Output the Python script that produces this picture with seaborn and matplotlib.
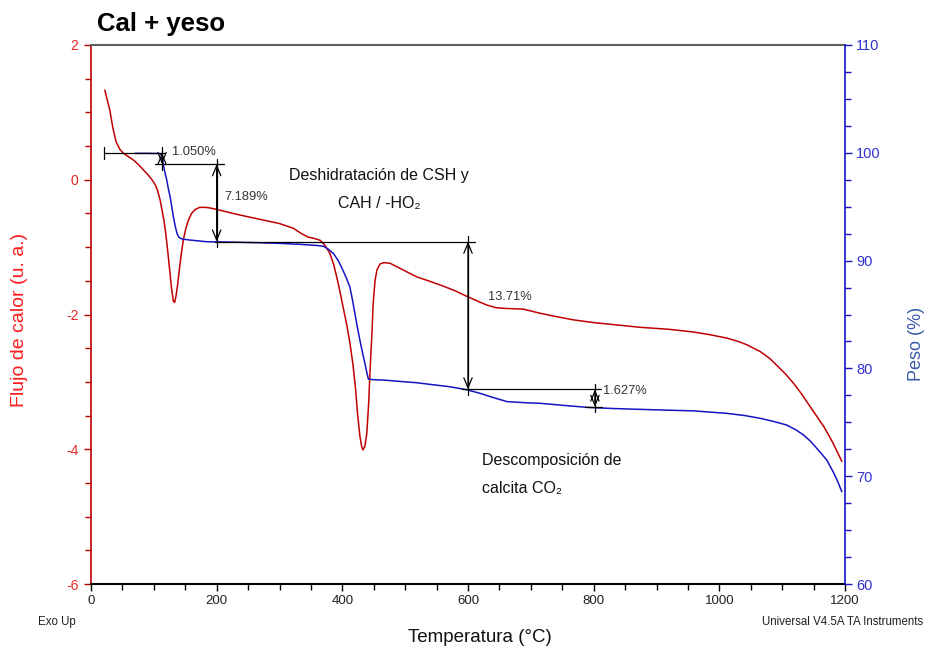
import matplotlib
matplotlib.use("Agg")
import matplotlib.pyplot as plt
import numpy as np
import pandas as pd
import seaborn as sns
from matplotlib.ticker import MultipleLocator

sns.set_theme(style="white")
plt.rcParams['font.family'] = ['Liberation Sans', 'DejaVu Sans']
plt.rcParams['axes.unicode_minus'] = False

# Heat flow curve (left axis)
temp_hf = [22, 26, 30, 35, 40, 46, 52, 60, 68, 76, 84, 92, 97, 102, 106, 110, 113,
           116, 119, 122, 125, 128, 131, 133, 135, 138, 141, 144, 147, 151, 155,
           160, 166, 173, 182, 190, 200, 226, 250, 280, 300, 322, 335, 345, 355,
           365, 372, 380, 386, 391, 396, 401, 407, 412, 417, 421, 424, 428, 431,
           433, 436, 439, 442, 444, 447, 449, 452, 455, 460, 466, 476, 495, 518,
           540, 561, 580, 598, 615, 630, 645, 660, 688, 714, 740, 768, 800, 821,
           874, 920, 959, 985, 1012, 1030, 1044, 1065, 1080, 1091, 1105, 1118,
           1131, 1144, 1155, 1166, 1174, 1181, 1195]
heat_flow = [1.33, 1.18, 1.03, 0.76, 0.56, 0.45, 0.39, 0.34, 0.29, 0.22, 0.14, 0.06,
             0.0, -0.07, -0.16, -0.30, -0.45, -0.60, -0.80, -1.05, -1.32, -1.60,
             -1.80, -1.82, -1.74, -1.55, -1.30, -1.08, -0.89, -0.72, -0.60, -0.50,
             -0.44, -0.41, -0.41, -0.42, -0.44, -0.50, -0.55, -0.61, -0.65, -0.72,
             -0.80, -0.85, -0.87, -0.90, -0.97, -1.09, -1.25, -1.44, -1.65, -1.88,
             -2.15, -2.42, -2.75, -3.10, -3.45, -3.81, -3.97, -4.01, -3.95, -3.76,
             -3.30, -2.85, -2.30, -1.85, -1.50, -1.34, -1.25, -1.23, -1.24, -1.33,
             -1.44, -1.51, -1.58, -1.65, -1.73, -1.80, -1.86, -1.90, -1.91, -1.92,
             -1.98, -2.03, -2.08, -2.12, -2.14, -2.19, -2.22, -2.26, -2.30, -2.35,
             -2.40, -2.45, -2.55, -2.65, -2.75, -2.88, -3.02, -3.18, -3.36, -3.51,
             -3.66, -3.79, -3.91, -4.18]

# Weight curve (right axis)
temp_w = [70, 90, 110, 113, 115, 118, 120.5, 123, 126, 128.5, 131, 134, 137, 140,
          145, 157, 184, 220, 266, 300, 333, 360, 370, 378, 386, 394, 401, 407,
          412, 416, 420, 424, 428, 432, 436, 439, 441.5, 450, 465, 490, 518, 545,
          571, 598, 619, 640, 662, 690, 715, 750, 789, 830, 874, 915, 959, 1012,
          1040, 1065, 1087, 1107, 1122, 1134, 1145, 1155, 1163, 1171, 1181, 1188,
          1195]
weight = [99.95, 99.95, 99.93, 99.7, 98.9, 98.1, 97.5, 96.7, 95.9, 95.0, 94.1, 93.2,
          92.5, 92.15, 92.0, 91.91, 91.75, 91.72, 91.66, 91.60, 91.51, 91.40, 91.33,
          91.05, 90.65, 89.95, 89.1, 88.3, 87.55, 86.4, 85.1, 83.8, 82.6, 81.5,
          80.45, 79.6, 79.0, 78.95, 78.92, 78.80, 78.67, 78.48, 78.30, 78.02, 77.69,
          77.30, 76.92, 76.82, 76.76, 76.58, 76.39, 76.28, 76.20, 76.13, 76.06,
          75.83, 75.63, 75.37, 75.07, 74.75, 74.30, 73.82, 73.25, 72.59, 72.05,
          71.50, 70.42, 69.55, 68.56]

# Step analysis of the weight loss
step_start = 100.0
step_losses = [1.050, 7.189, 13.71, 1.627]
step_labels = ["1.050%", "7.189%", "13.71%", "1.627%"]

RED = "#c00000"
BLUE = "#1414c4"

fig = plt.figure(figsize=(9.27, 6.52), dpi=100)
ax = fig.add_axes([91 / 927, 1 - 584 / 652, 754 / 927, 539 / 652])
ax2 = ax.twinx()

df_hf = pd.DataFrame({"Temperatura": temp_hf, "Flujo": heat_flow})
df_w = pd.DataFrame({"Temperatura": temp_w, "Peso": weight})
sns.lineplot(data=df_hf, x="Temperatura", y="Flujo", ax=ax, color=RED, lw=1.1)
sns.lineplot(data=df_w, x="Temperatura", y="Peso", ax=ax2, color=BLUE, lw=1.1)

ax.set_xlim(0, 1200)
ax.set_ylim(-6, 2)
ax2.set_ylim(60, 110)
ax.set_xticks(range(0, 1201, 200))
ax.xaxis.set_minor_locator(MultipleLocator(50))
ax.set_yticks([-6, -4, -2, 0, 2])
ax.yaxis.set_minor_locator(MultipleLocator(0.5))
ax2.set_yticks(range(60, 111, 10))
ax2.yaxis.set_minor_locator(MultipleLocator(2.5))

# spines
for sp in ax.spines.values():
    sp.set_visible(True)
ax.spines["left"].set_color(RED)
ax.spines["left"].set_linewidth(1.2)
ax.spines["bottom"].set_color("black")
ax.spines["bottom"].set_linewidth(1.5)
ax.spines["top"].set_color("#606060")
ax.spines["top"].set_linewidth(1.5)
ax.spines["right"].set_visible(False)
for name in ["left", "top", "bottom"]:
    ax2.spines[name].set_visible(False)
ax2.spines["right"].set_visible(True)
ax2.spines["right"].set_color(BLUE)
ax2.spines["right"].set_linewidth(1.2)

ax.tick_params(axis="x", which="major", direction="out", length=5, width=1,
               color="black", labelsize=9.5, labelcolor="#202020", bottom=True, pad=3)
ax.tick_params(axis="x", which="minor", direction="out", length=4, width=1,
               color="black", bottom=True)
ax.tick_params(axis="y", which="major", direction="out", length=5, width=1,
               color=RED, labelsize=10, labelcolor="#e02828", left=True, pad=4)
ax.tick_params(axis="y", which="minor", direction="out", length=4, width=1,
               color=RED, left=True)
ax2.tick_params(axis="y", which="major", direction="out", length=5, width=1,
                color=BLUE, labelsize=10.5, labelcolor="#3030d0", right=True, pad=3)
ax2.tick_params(axis="y", which="minor", direction="out", length=4, width=1,
                color=BLUE, right=True)

ax.set_xlabel("Temperatura (°C)", fontsize=13.5, color="#111111")
ax.xaxis.set_label_coords(0.516, -0.083)
ax.set_ylabel("Flujo de calor (u. a.)", fontsize=14, color="#ff1a1a")
ax.yaxis.set_label_coords(-0.084, 0.49)
ax2.set_ylabel("Peso (%)", fontsize=13, color="#3a5aa8")
ax2.yaxis.set_label_coords(1.083, 0.445)
ax.grid(False)
ax2.grid(False)

# step analysis markup on the weight axis
levels = [step_start]
for loss in step_losses:
    levels.append(levels[-1] - loss)
level_spans = [(21, 118), (102, 212), (197, 611), (590, 812), (786, 813)]
step_temps = [113, 200, 600, 802]
label_pos = [(129, 100.07), (211.7, 95.9), (632, 86.6), (815, 77.9)]
lk = dict(color="black", lw=0.9, zorder=5)
for lev, (t0, t1) in zip(levels, level_spans):
    ax2.plot([t0, t1], [lev, lev], **lk)
ax2.plot([21, 21], [100.55, 99.43], **lk)
for i, t in enumerate(step_temps):
    top, bot = levels[i], levels[i + 1]
    ext = 0.5
    ax2.plot([t, t], [top + ext, bot - ext], **lk)
    mid = (top + bot) / 2
    for end in (top, bot):
        ax2.annotate("", xy=(t, end), xytext=(t, mid),
                     arrowprops=dict(arrowstyle="->,head_length=0.6,head_width=0.25",
                                     color="black", lw=0.9, shrinkA=0, shrinkB=0),
                     zorder=6)
    lx, ly = label_pos[i]
    ax2.text(lx, ly, step_labels[i], fontsize=9.3, color="#333333",
             ha="left", va="center")

ax2.text(458, 97.94, "Deshidratación de CSH y", fontsize=11.5, ha="center",
         va="center", color="#111111")
ax2.text(458, 95.34, "CAH / -HO₂", fontsize=11.5, ha="center", va="center",
         color="#111111", family=["Liberation Sans", "DejaVu Sans"])
ax2.text(622, 71.5, "Descomposición de", fontsize=11.5, ha="left", va="center",
         color="#111111")
ax2.text(622, 68.9, "calcita CO₂", fontsize=11.5, ha="left", va="center",
         color="#111111", family=["Liberation Sans", "DejaVu Sans"])

fig.text(97 / 927, 1 - 24 / 652, "Cal + yeso", fontsize=18.5, fontweight="bold",
         ha="left", va="center", color="black")
fig.text(38 / 927, 1 - 622 / 652, "Exo Up", fontsize=8.3, ha="left", va="center",
         color="#202020")
fig.text(762 / 927, 1 - 622 / 652, "Universal V4.5A TA Instruments", fontsize=8.3,
         ha="left", va="center", color="#202020")

fig.savefig("out.png", dpi=100, facecolor="white")
